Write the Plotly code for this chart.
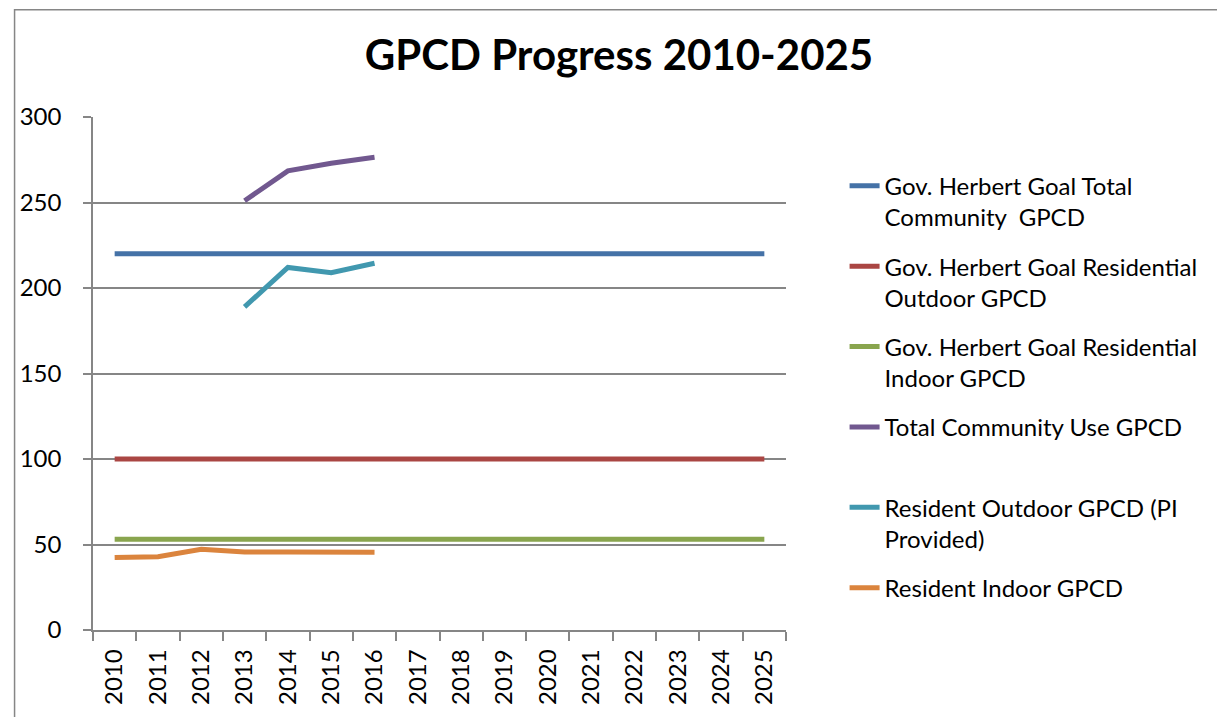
import plotly.graph_objects as go

years = ["2010", "2011", "2012", "2013", "2014", "2015", "2016", "2017",
         "2018", "2019", "2020", "2021", "2022", "2023", "2024", "2025"]

goal_total = [220, 220, 220, 220, 220, 220, 220, 220, 220, 220, 220, 220, 220, 220, 220, 220]
goal_res_outdoor = [100, 100, 100, 100, 100, 100, 100, 100, 100, 100, 100, 100, 100, 100, 100, 100]
goal_res_indoor = [53, 53, 53, 53, 53, 53, 53, 53, 53, 53, 53, 53, 53, 53, 53, 53]
total_use = [None, None, None, 251, 268.5, 273, 276.5, None, None, None, None, None, None, None, None, None]
res_outdoor = [None, None, None, 189, 212, 209, 214.5, None, None, None, None, None, None, None, None, None]
res_indoor = [42.4, 42.9, 47.2, 45.6, 45.6, 45.4, 45.4, None, None, None, None, None, None, None, None, None]

names = [
    "Gov. Herbert Goal Total<br>Community  GPCD",
    "Gov. Herbert Goal Residential<br>Outdoor GPCD",
    "Gov. Herbert Goal Residential<br>Indoor GPCD",
    "Total Community Use GPCD<br> ",
    "Resident Outdoor GPCD (PI<br>Provided)",
    "Resident Indoor GPCD",
]
series = [goal_total, goal_res_outdoor, goal_res_indoor, total_use, res_outdoor, res_indoor]
colors = ["#4572A7", "#AA4643", "#89A54E", "#71588F", "#4198AF", "#DB843D"]

FONT = "Lato"

fig = go.Figure()
for i, (nm, vals, col) in enumerate(zip(names, series, colors)):
    fig.add_trace(go.Scatter(
        x=years, y=vals, name=nm, mode="lines",
        line=dict(color=col, width=5),
        legendgroup=f"g{i}",
        connectgaps=False,
    ))

# page body has an 8px margin, so coordinates below are screen - 8
FW, FH = 1217, 709
L, T, W, H = 80, 109, 698, 517
fig.update_layout(
    width=FW, height=FH, autosize=False,
    margin=dict(l=L, r=FW - L - W, t=T, b=FH - T - H),
    paper_bgcolor="white", plot_bgcolor="white",
    font=dict(family=FONT, color="black", size=24),
    title=dict(text="<b>GPCD Progress 2010-2025</b>", x=611 / FW, xanchor="center",
               y=1 - 47 / FH, yanchor="middle", font=dict(size=42, family=FONT)),
    showlegend=True,
    legend=dict(
        x=(837 - L) / W, xanchor="left",
        y=(T + H - 156) / H, yanchor="top",
        font=dict(size=24, family=FONT),
        tracegroupgap=15, valign="top",
        bgcolor="rgba(0,0,0,0)",
    ),
    xaxis=dict(
        type="category", range=[-0.5, 15.5],
        showgrid=False, showline=True, linecolor="#868686", linewidth=1.5,
        ticks="outside", tickson="boundaries", ticklen=9, tickcolor="#868686", tickwidth=1.5,
        tickangle=-90, tickfont=dict(size=24, family=FONT), ticklabelstandoff=8,
        zeroline=False,
    ),
    yaxis=dict(
        range=[0, 300], dtick=50, showgrid=True, gridcolor="#868686", gridwidth=1.5,
        showline=True, linecolor="#868686", linewidth=1.5,
        ticks="outside", ticklen=8, tickcolor="#868686", tickwidth=1.5,
        tickfont=dict(size=24, family=FONT), ticklabelstandoff=17,
        zeroline=False,
    ),
)

# outer chart border
fig.add_shape(type="rect", xref="paper", yref="paper",
              x0=(1 - L) / W, x1=(FW + 20 - L) / W,
              y0=(T + H - FH - 20) / H, y1=(T + H - 1) / H,
              line=dict(color="#868686", width=1.5), fillcolor="rgba(0,0,0,0)", layer="below")

fig.write_html("out.html")
